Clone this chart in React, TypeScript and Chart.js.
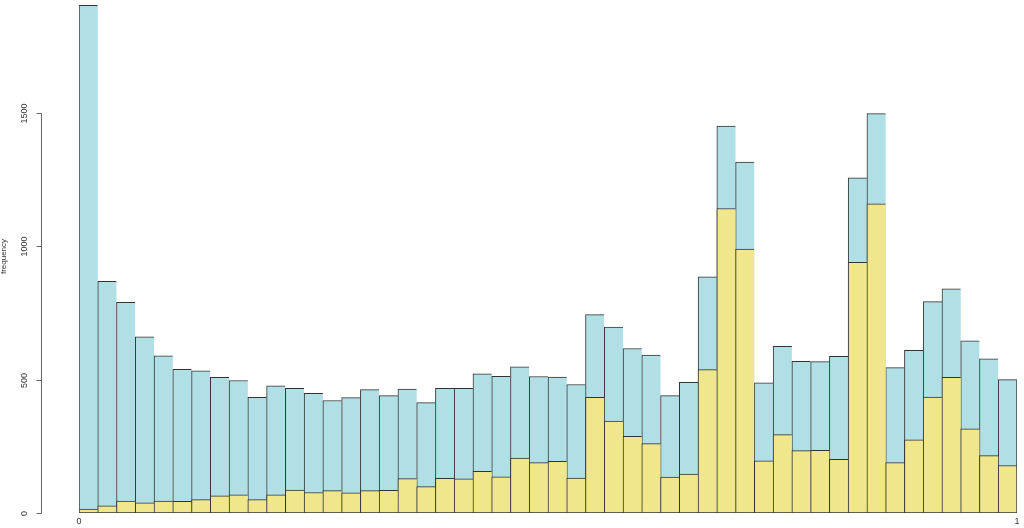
import React, { useEffect, useRef } from "react";
import { Chart, registerables } from "chart.js";

Chart.register(...registerables);

const binLabels = [
  "0.01", "0.03", "0.05", "0.07", "0.09", "0.11", "0.13", "0.15", "0.17", "0.19",
  "0.21", "0.23", "0.25", "0.27", "0.29", "0.31", "0.33", "0.35", "0.37", "0.39",
  "0.41", "0.43", "0.45", "0.47", "0.49", "0.51", "0.53", "0.55", "0.57", "0.59",
  "0.61", "0.63", "0.65", "0.67", "0.69", "0.71", "0.73", "0.75", "0.77", "0.79",
  "0.81", "0.83", "0.85", "0.87", "0.89", "0.91", "0.93", "0.95", "0.97", "0.99",
];

const totalCounts = [
  1904, 869, 790, 661, 589, 539, 533, 509, 497, 434,
  477, 468, 449, 422, 433, 463, 440, 465, 414, 468,
  468, 522, 513, 548, 512, 510, 482, 744, 697, 617,
  592, 440, 490, 886, 1451, 1316, 488, 625, 569, 568,
  588, 1257, 1498, 545, 610, 793, 841, 646, 578, 500,
];

const subsetCounts = [
  15, 27, 45, 38, 45, 44, 50, 64, 68, 50,
  68, 86, 77, 84, 76, 84, 85, 129, 99, 130,
  128, 156, 136, 206, 189, 194, 131, 434, 345, 288,
  260, 135, 146, 538, 1142, 990, 196, 294, 234, 235,
  201, 940, 1160, 189, 274, 435, 509, 316, 215, 178,
];

const yTicks = [0, 500, 1000, 1500];
const xTickValues = [0, 1];
const xTickLabels = ["0", "1"];
const yTitle = "frequency";

const BLUE = "#B0E0E6";
const YELLOW = "#F0E68C";
const EDGE = "#333333";
const AXIS = "#666666";
const FONT = "Liberation Sans, Arial, sans-serif";

const axesPlugin = {
  id: "rAxes",
  afterDraw(chart: any) {
    const ctx = chart.ctx;
    const y = chart.scales.y;
    const x2 = chart.scales.x2;
    const area = chart.chartArea;
    ctx.save();
    const axisX = 41.5;
    ctx.strokeStyle = AXIS;
    ctx.lineWidth = 1;
    ctx.beginPath();
    ctx.moveTo(axisX, Math.round(y.getPixelForValue(yTicks[0])) + 0.5);
    ctx.lineTo(axisX, Math.round(y.getPixelForValue(yTicks[yTicks.length - 1])) + 0.5);
    ctx.stroke();
    ctx.fillStyle = "#333";
    ctx.font = `9px ${FONT}`;
    ctx.textAlign = "center";
    ctx.textBaseline = "middle";
    for (const t of yTicks) {
      const py = Math.round(y.getPixelForValue(t)) + 0.5;
      ctx.beginPath();
      ctx.moveTo(axisX, py);
      ctx.lineTo(axisX - 5, py);
      ctx.stroke();
      ctx.save();
      ctx.translate(25, py);
      ctx.rotate(-Math.PI / 2);
      ctx.fillText(String(t), 0, 0);
      ctx.restore();
    }
    ctx.save();
    ctx.font = `8px ${FONT}`;
    ctx.translate(4, (area.top + area.bottom) / 2);
    ctx.rotate(-Math.PI / 2);
    ctx.fillText(yTitle, 0, 0);
    ctx.restore();
    ctx.font = `9px ${FONT}`;
    xTickValues.forEach((v, i) => {
      ctx.fillText(xTickLabels[i], x2.getPixelForValue(v), area.bottom + 9);
    });
    ctx.restore();
  },
};

export default function App() {
  const ref = useRef<HTMLCanvasElement | null>(null);
  useEffect(() => {
    if (!ref.current) return;
    const n = binLabels.length;
    const bw = (ctx: any) => ({
      left: 1,
      top: 1,
      bottom: 1,
      right: ctx.dataIndex === n - 1 ? 1 : 0,
    });
    const chart = new Chart(ref.current, {
      type: "bar",
      data: {
        labels: binLabels,
        datasets: [
          {
            label: "subset",
            data: subsetCounts,
            backgroundColor: YELLOW,
            borderColor: EDGE,
            borderWidth: bw as any,
            borderSkipped: false,
            barPercentage: 1,
            categoryPercentage: 1,
            order: 0,
          },
          {
            label: "total",
            data: totalCounts,
            backgroundColor: BLUE,
            borderColor: EDGE,
            borderWidth: bw as any,
            borderSkipped: false,
            barPercentage: 1,
            categoryPercentage: 1,
            order: 1,
          },
        ],
      },
      options: {
        animation: false,
        responsive: false,
        layout: { padding: { left: 79, right: 7, top: 0, bottom: 15 } },
        plugins: { legend: { display: false }, tooltip: { enabled: false } },
        datasets: { bar: { grouped: false } } as any,
        scales: {
          x: { display: false, offset: true },
          x2: { type: "linear", display: false, min: 0, max: 1, offset: false, grace: 0 },
          y: { display: false, min: 0, max: 1924 },
        },
      },
      plugins: [axesPlugin],
    });
    return () => chart.destroy();
  }, []);
  return (
    <div style={{ position: "fixed", left: 0, top: 0, width: 1024, height: 528, background: "#fff" }}>
      <canvas ref={ref} width={1024} height={528} style={{ display: "block" }} />
    </div>
  );
}
